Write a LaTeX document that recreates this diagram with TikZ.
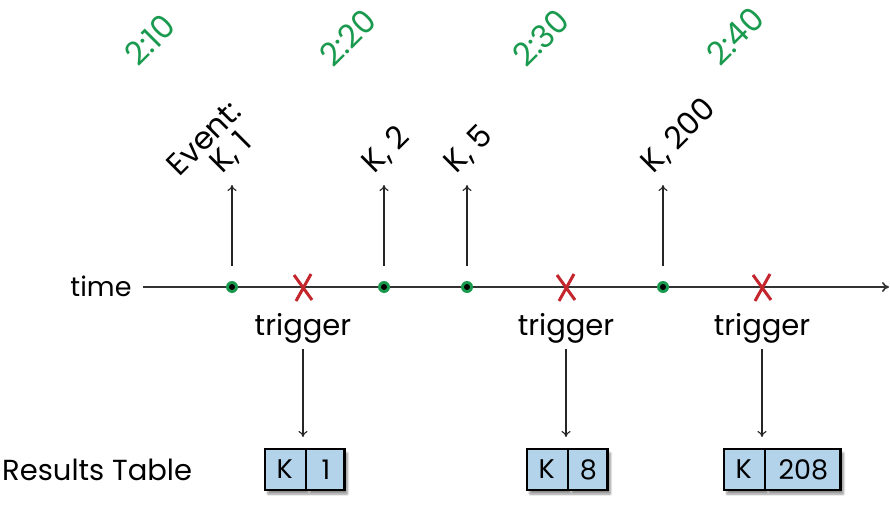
\documentclass[tikz,border=0pt]{standalone}
\usepackage{fontspec}
\setmainfont{Poppins}
\usetikzlibrary{arrows.meta,shadows.blur,shapes.multipart}
\definecolor{evgreen}{HTML}{1A9A4E}
\definecolor{trred}{HTML}{C4262E}
\definecolor{cellblue}{HTML}{B3D3EB}
\tikzset{
  lbl/.style={font=\fontsize{29}{32}\selectfont, inner sep=0pt},
  rotlbl/.style={font=\fontsize{31}{34}\selectfont, inner sep=0pt, rotate=45, anchor=south west},
  timelbl/.style={font=\fontsize{32}{34}\selectfont, text=evgreen, rotate=45, inner sep=0pt},
  evarrow/.style={draw=black!85, line width=1.1pt, -{To[length=6pt,width=9pt]}},
  axis/.style={draw=black!80, line width=1.6pt, -{To[length=7pt,width=10pt]}},
  evdot/.style={circle, fill=evgreen, minimum size=12pt, inner sep=0pt},
  cross/.style={draw=trred, line width=3pt},
  restab/.style={rectangle split, rectangle split horizontal, rectangle split parts=2,
    draw=black, line width=2.6pt, fill=cellblue, minimum height=41pt, inner sep=0pt,
    font=\fontsize{27}{30}\selectfont,
    blur shadow={shadow xshift=3pt, shadow yshift=-4pt, shadow blur steps=6, shadow opacity=45}}
}
\begin{document}
\begin{tikzpicture}[x=1pt,y=-1pt]
\useasboundingbox (0,0) rectangle (890,513);
% axis
\node[font=\fontsize{27}{30}\selectfont, inner sep=0pt, anchor=center] (time) at (101,286) {time};
\coordinate (axend) at (889,287);
\draw[axis] (143,287) coordinate (axstart) -- (axend);
% event dots
\foreach \n/\x in {e1/232,e2/384,e3/467,e4/663}{
  \node[evdot] (\n) at (\x,287) {};
  \fill (\x,287) circle (3pt);
  \coordinate (\n top) at (\x,185);
  \coordinate (\n bot) at (\x,266);
  \draw[evarrow] (\n bot) -- (\n top);
}
% event labels
\node[rotlbl] (ev1a) at (180,178) {Event:};
\node[rotlbl] (ev1b) at (226,178) {K, 1};
\node[rotlbl] (ev2) at (378,178) {K, 2};
\node[rotlbl] (ev3) at (460,178) {K, 5};
\node[rotlbl] (ev4) at (657,178) {K, 200};
% times
\node[timelbl] (t1) at (150,40) {2:10};
\node[timelbl] (t2) at (348,38) {2:20};
\node[timelbl] (t3) at (541,38) {2:30};
\node[timelbl] (t4) at (735,36) {2:40};
% triggers
\foreach \n/\x in {1/303,2/566,3/762}{
  \coordinate (x\n) at (\x,287);
  \draw[cross] (\x-9,275) -- (\x+9,300) (\x+8,274) -- (\x-7,301);
  \node[lbl] (tr\n) at (\x,328) {trigger};
  \coordinate (tb\n) at (\x,437);
  \draw[evarrow] (tr\n.south) ++(0,6) coordinate (ts\n) -- (tb\n);
}
% results
\node[lbl, anchor=west] (res) at (2,470) {Results Table};
\node[restab, anchor=west] (tab1) at (263.5,469.5)
  {\makebox[40pt]{K}\nodepart{two}\makebox[37pt]{1}};
\node[restab, anchor=west] (tab2) at (525.5,469.5)
  {\makebox[40pt]{K}\nodepart{two}\makebox[38pt]{8}};
\node[restab, anchor=west] (tab3) at (722.5,469.5)
  {\makebox[40pt]{K}\nodepart{two}\makebox[74pt]{208}};
\end{tikzpicture}
\end{document}
